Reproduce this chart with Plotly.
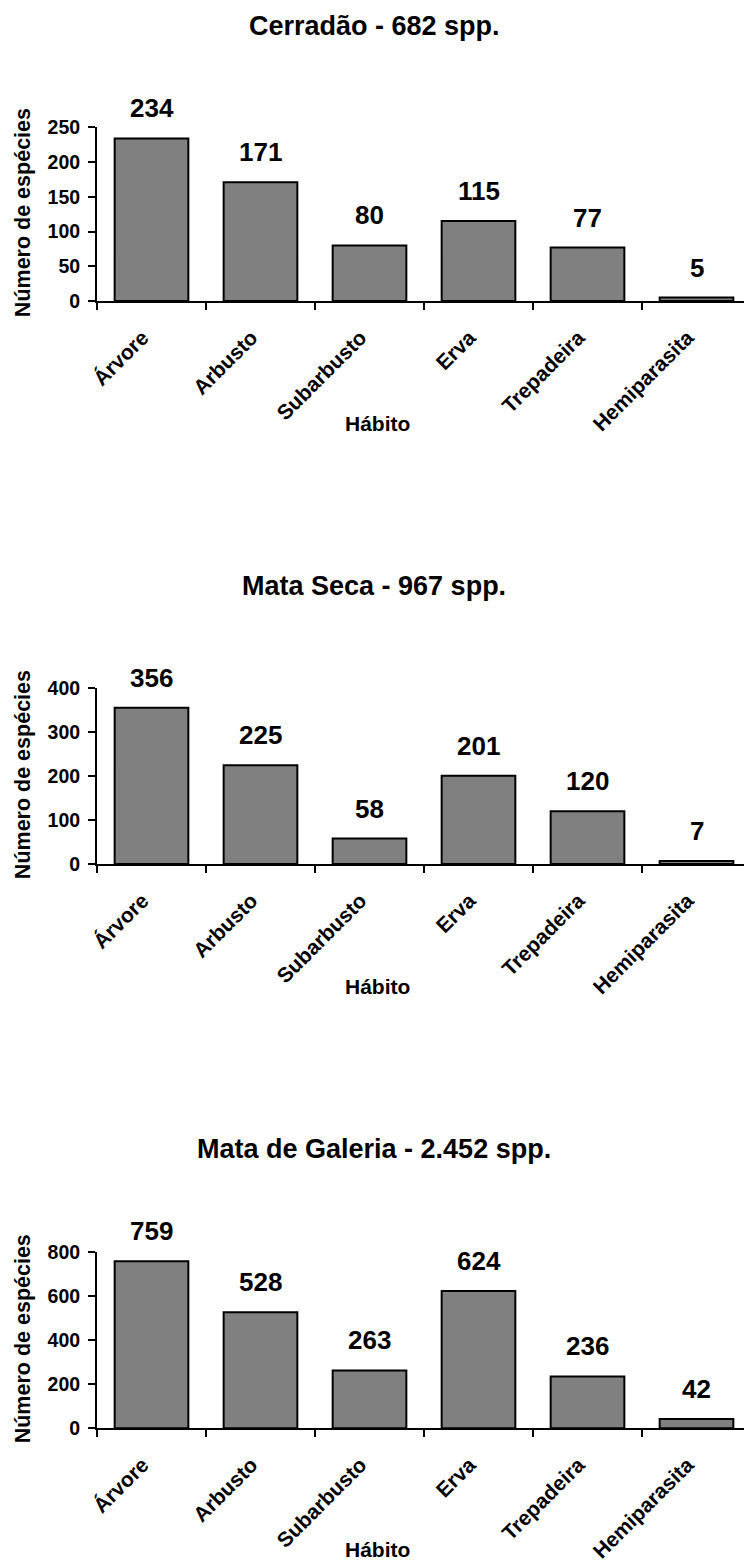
import plotly.graph_objects as go

# Growth-habit categories shared by all three vegetation types
habitos = ["Árvore", "Arbusto", "Subarbusto", "Erva", "Trepadeira", "Hemiparasita"]

# Species counts per habit
cerradao = [234, 171, 80, 115, 77, 5]
mata_seca = [356, 225, 58, 201, 120, 7]
mata_galeria = [759, 528, 263, 624, 236, 42]

titulos = ["Cerradão - 682 spp.", "Mata Seca - 967 spp.", "Mata de Galeria - 2.452 spp."]
y_max = [250, 400, 800]
y_dtick = [50, 100, 200]

W, H = 744, 1562
FONT = "Liberation Sans, Arial, sans-serif"


def fx(px):
    return px / W


def fy(py):
    return 1 - py / H


# panel layout in pixels: (y of top of value axis, y of zero line, title y, axis title y)
panels = [
    dict(top=127.3, zero=301.0, title=26, xtitle=423),
    dict(top=688.3, zero=864.0, title=586, xtitle=986),
    dict(top=1252.3, zero=1428.3, title=1149, xtitle=1549),
]
x_left = 97.0
cat_w = 109.0
x_hi = -0.5 + (W - x_left) / cat_w

series = [cerradao, mata_seca, mata_galeria]

fig = go.Figure()
annotations = []
layout = {}

for i, (vals, p) in enumerate(zip(series, panels)):
    n = i + 1
    xa = "x" if n == 1 else f"x{n}"
    ya = "y" if n == 1 else f"y{n}"
    fig.add_trace(go.Bar(
        x=habitos, y=vals, xaxis=xa, yaxis=ya,
        marker=dict(color="#808080", line=dict(color="black", width=2)),
        showlegend=False, hoverinfo="x+y",
    ))
    xkey = "xaxis" if n == 1 else f"xaxis{n}"
    ykey = "yaxis" if n == 1 else f"yaxis{n}"
    layout[xkey] = dict(
        domain=[fx(x_left), 1], anchor=ya, range=[-0.5, x_hi],
        showline=True, linecolor="black", linewidth=2,
        ticks="outside", tickson="boundaries", ticklen=7, tickwidth=2, tickcolor="black",
        tickangle=-45, ticklabelstandoff=14, ticklabelshift=-9,
        tickfont=dict(family=FONT, size=21, color="black", weight="bold"),
        showgrid=False, zeroline=False, fixedrange=True, automargin=False,
    )
    layout[ykey] = dict(
        domain=[fy(p["zero"]), fy(p["top"])], anchor=xa, range=[0, y_max[i]],
        dtick=y_dtick[i], tick0=0,
        showline=True, linecolor="black", linewidth=2,
        ticks="outside", ticklen=7, tickwidth=2, tickcolor="black", ticklabelstandoff=4,
        tickfont=dict(family=FONT, size=19.5, color="black", weight="bold"),
        showgrid=False, zeroline=False, fixedrange=True, automargin=False,
    )
    # value labels above the bars
    for cat, v in zip(habitos, vals):
        annotations.append(dict(
            x=cat, y=v, xref=xa, yref=ya, text=str(v), showarrow=False,
            yanchor="middle", yshift=30,
            font=dict(family=FONT, size=26, color="black", weight="bold"),
        ))
    # panel title
    annotations.append(dict(
        x=fx(374), y=fy(p["title"]), xref="paper", yref="paper", text=titulos[i],
        showarrow=False, xanchor="center", yanchor="middle",
        font=dict(family=FONT, size=27, color="black", weight="bold"),
    ))
    # axis titles
    annotations.append(dict(
        x=fx(377), y=fy(p["xtitle"]), xref="paper", yref="paper", text="Hábito",
        showarrow=False, xanchor="center", yanchor="middle",
        font=dict(family=FONT, size=21, color="black", weight="bold"),
    ))
    annotations.append(dict(
        x=fx(23), y=fy((p["top"] + p["zero"]) / 2 - 1), xref="paper", yref="paper",
        text="Número de espécies", textangle=-90,
        showarrow=False, xanchor="center", yanchor="middle",
        font=dict(family=FONT, size=21.5, color="black", weight="bold"),
    ))

fig.update_layout(
    width=W, height=H,
    margin=dict(l=0, r=0, t=0, b=0),
    paper_bgcolor="white", plot_bgcolor="white",
    bargap=0.324,
    annotations=annotations,
    **layout,
)

fig.write_html("out.html")
